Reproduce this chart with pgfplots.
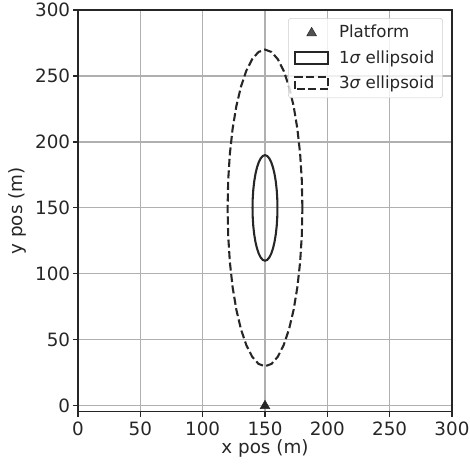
\documentclass[border=0pt]{standalone}
\usepackage{fontspec}
\setmainfont{DejaVu Sans}
\usepackage{pgfplots}
\pgfplotsset{compat=1.18}
\definecolor{txt}{HTML}{262626}
\definecolor{gridc}{HTML}{B0B0B0}
\definecolor{legc}{HTML}{CCCCCC}
\pgfplotsset{ellleg/.style={legend image code/.code={\draw[##1,sharp corners] (0pt,-4.3pt) rectangle (24pt,4.3pt);\path (29pt,0pt);}},
  markleg/.style={legend image code/.code={\draw[##1] plot coordinates {(12pt,0pt)};\path (0pt,0pt) (29pt,0pt);}}}
\begin{document}
\begin{tikzpicture}
\fontsize{13.2}{15.8}\selectfont
\begin{axis}[
  name=ax,
  scale only axis,
  width=269.3pt, height=289.4pt,
  xmin=0, xmax=300, ymin=-4.5, ymax=300,
  xtick={0,50,...,300}, ytick={0,50,...,300},
  grid=major,
  major grid style={color=gridc, line width=0.8pt},
  axis line style={line width=0.8pt, color=txt},
  tick style={line width=0.8pt, color=txt},
  tick align=outside, major tick length=3.5pt,
  xtick pos=bottom, ytick pos=left,
  /pgf/number format/assume math mode=true,
  ticklabel style={font=\fontsize{13.2}{15.8}\selectfont, color=txt},
  xticklabel style={inner sep=1pt, yshift=-2.2pt},
  yticklabel style={inner sep=2pt},
  label style={font=\fontsize{13.2}{15.8}\selectfont, color=txt},
  xlabel={x pos (m)}, ylabel={y pos (m)},
  xlabel style={yshift=2.5pt},
  ylabel style={yshift=0pt},
  legend cell align=left,
  legend style={at={(1,1)}, anchor=north east, xshift=-6.5pt, yshift=-5.8pt,
    draw=legc, fill=white, fill opacity=0.8, text opacity=1, rounded corners=2pt,
    font=\fontsize{12}{14.4}\selectfont, text=txt,
    row sep=3pt, inner xsep=4pt, inner ysep=3pt},
]
\addplot[only marks, mark=triangle*, mark size=4pt, color=txt, markleg] coordinates {(150,0)};
\addlegendentry{Platform}
\addplot[line width=1.5pt, color=txt, ellleg]
coordinates {
(160,150)(159.85,156.94)(159.40,163.68)(158.66,170)(157.66,175.71)(156.43,180.64)(155,184.64)(153.42,187.59)(151.74,189.39)(150,190)
(148.26,189.39)(146.58,187.59)(145,184.64)(143.57,180.64)(142.34,175.71)(141.34,170)(140.60,163.68)(140.15,156.94)(140,150)
(140.15,143.06)(140.60,136.32)(141.34,130)(142.34,124.29)(143.57,119.36)(145,115.36)(146.58,112.41)(148.26,110.61)(150,110)
(151.74,110.61)(153.42,112.41)(155,115.36)(156.43,119.36)(157.66,124.29)(158.66,130)(159.40,136.32)(159.85,143.06)(160,150)
} -- cycle;
\addlegendentry{1{\itshape σ} ellipsoid}
\addplot[line width=1.5pt, color=txt, dash pattern=on 5.8pt off 2.5pt, ellleg]
coordinates {
(180,150)(179.54,170.83)(178.19,191.04)(175.98,210)(172.98,227.14)(169.28,241.92)(165,253.92)(160.26,262.76)(155.21,268.18)(150,270)
(144.79,268.18)(139.74,262.76)(135,253.92)(130.72,241.92)(127.02,227.14)(124.02,210)(121.81,191.04)(120.46,170.83)(120,150)
(120.46,129.17)(121.81,108.96)(124.02,90)(127.02,72.86)(130.72,58.08)(135,46.08)(139.74,37.24)(144.79,31.82)(150,30)
(155.21,31.82)(160.26,37.24)(165,46.08)(169.28,58.08)(172.98,72.86)(175.98,90)(178.19,108.96)(179.54,129.17)(180,150)
} -- cycle;
\addlegendentry{3{\itshape σ} ellipsoid}
\end{axis}
\pgfresetboundingbox
\path[use as bounding box] ([xshift=-56.2pt,yshift=-39.6pt]ax.south west) rectangle ([xshift=13pt,yshift=7.2pt]ax.north east);
\end{tikzpicture}
\end{document}
